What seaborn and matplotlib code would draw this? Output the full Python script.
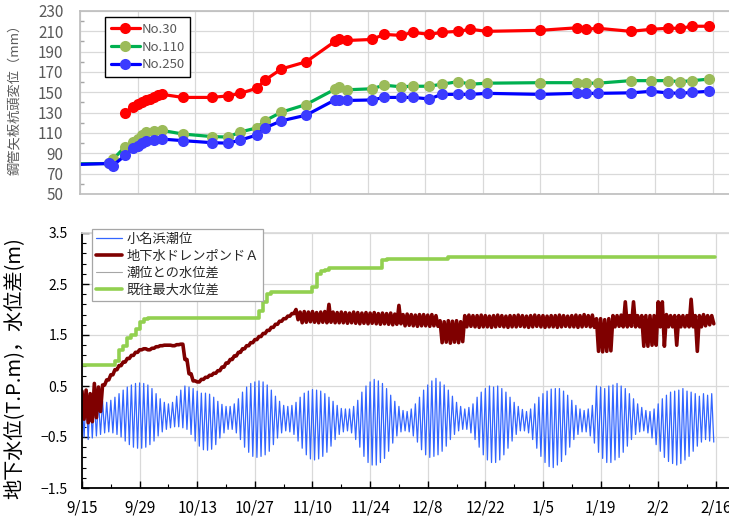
import matplotlib.pyplot as plt
import matplotlib.dates as mdates
from matplotlib.lines import Line2D
from matplotlib.ticker import MultipleLocator, FuncFormatter
import numpy as np
import pandas as pd
import seaborn as sns

start = pd.Timestamp("2019-09-15")

# --- top panel: pile head displacement (mm), survey days counted from 9/15
no30_days = [11, 13, 14, 15, 16, 17, 18, 19, 20, 25, 32, 36, 39,
             43, 45, 49, 55, 62, 63, 65, 71, 74, 78, 81, 85, 88, 92, 95, 99,
             112, 121, 123, 126, 134, 139, 143, 146, 149, 153]
no30_mm = [130, 136, 138.5, 140.5, 142, 143.5, 145, 147, 148, 145, 145, 146.5, 149,
           154, 162, 173, 180, 200, 202, 201, 202, 207, 206, 209, 207, 209, 210, 212, 210,
           211, 213.5, 212, 213, 210, 212, 213, 213, 215, 215]
pile_days = [-5, 7, 8, 11, 13, 14, 15, 16, 18, 20, 25, 32, 36, 39,
             43, 45, 49, 55, 62, 63, 65, 71, 74, 78, 81, 85, 88, 92, 95, 99,
             112, 121, 123, 126, 134, 139, 143, 146, 149, 153]
no110_mm = [79.5, 80, 84, 96.5, 101.5, 104.5, 108, 111, 112, 112.5, 109, 106.5, 106, 111,
            115, 122, 130.5, 138, 153, 155, 152.5, 153.5, 157, 155.5, 156, 156, 158, 160.5, 158, 159,
            159.5, 159.5, 159, 159, 161.5, 161.5, 161.5, 160.5, 161.5, 163]
no250_mm = [78.5, 80, 78, 88, 95, 97, 100, 102, 103, 104, 102.5, 100.5, 100, 103,
            108, 115, 122, 127.5, 142.5, 142, 142, 142.5, 145, 145, 145, 143.5, 148, 148, 148, 149,
            148, 149, 149, 149, 149.5, 151, 149.5, 149, 150, 151]

# --- bottom panel: daily high / low readings (m), day 0 = 9/15
tide_high = [0.30, 0.32, 0.28, 0.25, 0.22, 0.20, 0.18,
             0.22, 0.28, 0.35, 0.42, 0.48, 0.52, 0.55,
             0.56, 0.55, 0.52, 0.45, 0.35, 0.25, 0.18,
             0.15, 0.18, 0.30, 0.42, 0.50, 0.48, 0.45,
             0.40, 0.36, 0.36, 0.34, 0.28, 0.20, 0.14,
             0.10, 0.10, 0.15, 0.25, 0.38, 0.48, 0.55,
             0.58, 0.60, 0.58, 0.52, 0.42, 0.30, 0.20,
             0.12, 0.10, 0.12, 0.18, 0.28, 0.36, 0.40,
             0.43, 0.42, 0.40, 0.35, 0.28, 0.20, 0.12,
             0.06, 0.05, 0.05, 0.10, 0.22, 0.38, 0.50,
             0.58, 0.63, 0.60, 0.55, 0.45, 0.32, 0.20,
             0.10, 0.02, 0.00, 0.05, 0.15, 0.28, 0.42,
             0.52, 0.60, 0.65, 0.58, 0.52, 0.42, 0.30,
             0.18, 0.10, 0.05, 0.08, 0.15, 0.28, 0.38,
             0.45, 0.50, 0.48, 0.50, 0.45, 0.38, 0.28,
             0.18, 0.10, 0.04, 0.00, 0.05, 0.15, 0.28,
             0.35, 0.40, 0.44, 0.45, 0.45, 0.40, 0.32,
             0.22, 0.12, 0.05, 0.02, 0.05, 0.12, 0.50,
             0.48, 0.45, 0.50, 0.52, 0.55, 0.50, 0.45,
             0.35, 0.25, 0.15, 0.08, 0.02, 0.00, 0.05,
             0.15, 0.25, 0.32, 0.38, 0.40, 0.42, 0.45,
             0.40, 0.38, 0.35, 0.30, 0.35, 0.32, 0.35]
tide_low = [-0.50, -0.55, -0.52, -0.48, -0.45, -0.42, -0.40,
            -0.42, -0.45, -0.50, -0.58, -0.65, -0.70, -0.72,
            -0.72, -0.70, -0.65, -0.58, -0.48, -0.40, -0.35,
            -0.32, -0.30, -0.30, -0.32, -0.35, -0.45, -0.58,
            -0.68, -0.75, -0.76, -0.74, -0.65, -0.52, -0.42,
            -0.35, -0.35, -0.42, -0.55, -0.70, -0.80, -0.88,
            -0.90, -0.88, -0.85, -0.78, -0.65, -0.52, -0.42,
            -0.38, -0.40, -0.45, -0.58, -0.72, -0.85, -0.93,
            -0.95, -0.93, -0.88, -0.80, -0.68, -0.55, -0.45,
            -0.40, -0.38, -0.42, -0.55, -0.70, -0.88, -1.00,
            -1.05, -1.05, -1.00, -0.92, -0.78, -0.62, -0.48,
            -0.40, -0.38, -0.40, -0.48, -0.60, -0.75, -0.85,
            -0.90, -0.88, -0.85, -0.78, -0.68, -0.55, -0.45,
            -0.38, -0.35, -0.35, -0.42, -0.55, -0.70, -0.85,
            -0.95, -1.00, -1.00, -0.95, -0.85, -0.72, -0.58,
            -0.45, -0.38, -0.38, -0.42, -0.55, -0.72, -0.88,
            -1.00, -1.08, -1.10, -1.05, -0.98, -0.85, -0.70,
            -0.55, -0.45, -0.40, -0.40, -0.48, -0.62, -0.80,
            -0.92, -1.00, -1.00, -0.95, -0.90, -0.80, -0.68,
            -0.55, -0.45, -0.40, -0.38, -0.42, -0.52, -0.65,
            -0.78, -0.90, -0.98, -1.02, -1.05, -1.02, -0.95,
            -0.88, -0.78, -0.68, -0.60, -0.55, -0.58, -0.60]

gw_high = [0.40, 0.42, 0.35, 0.55, 0.48, 0.52, 0.62,
           0.72, 0.82, 0.90, 0.97, 1.04, 1.10, 1.16,
           1.21, 1.23, 1.21, 1.24, 1.27, 1.29, 1.30,
           1.30, 1.29, 1.31, 1.32, 1.02, 0.74, 0.60,
           0.58, 0.63, 0.67, 0.71, 0.75, 0.80, 0.87,
           0.95, 1.02, 1.09, 1.16, 1.23, 1.29, 1.35,
           1.41, 1.47, 1.53, 1.59, 1.65, 1.71, 1.77,
           1.82, 1.87, 1.92, 2.00, 1.95, 1.96, 1.95,
           1.96, 1.94, 1.95, 1.96, 2.10, 1.95, 1.94,
           1.95, 1.94, 1.93, 1.95, 1.94, 1.93, 1.94,
           1.93, 1.94, 1.92, 1.93, 1.92, 1.93, 1.91,
           2.08, 1.90, 1.91, 1.90, 1.89, 1.90, 1.90,
           1.89, 1.90, 1.88, 1.78, 1.76, 1.78, 1.77,
           1.78, 1.76, 1.88, 1.89, 1.88, 1.88, 1.89,
           1.88, 1.87, 1.88, 1.89, 1.88, 1.87, 1.88,
           1.88, 1.89, 1.88, 1.87, 1.88, 1.89, 1.88,
           1.88, 1.87, 1.88, 1.88, 1.89, 1.88, 1.87,
           1.88, 1.89, 1.88, 1.90, 1.88, 1.89, 1.82,
           1.82, 1.80, 1.82, 1.88, 1.88, 1.89, 2.15,
           1.88, 2.15, 1.88, 1.88, 1.88, 1.88, 1.88,
           2.15, 2.15, 1.90, 1.88, 1.88, 1.88, 1.88,
           1.88, 2.20, 1.88, 1.88, 1.90, 1.88, 1.88]
gw_low = [-0.15, -0.22, -0.20, -0.12, 0.00, 0.52, 0.62,
          0.72, 0.82, 0.90, 0.97, 1.04, 1.10, 1.16,
          1.21, 1.23, 1.21, 1.24, 1.27, 1.29, 1.30,
          1.30, 1.29, 1.31, 1.32, 1.02, 0.74, 0.60,
          0.58, 0.63, 0.67, 0.71, 0.75, 0.80, 0.87,
          0.95, 1.02, 1.09, 1.16, 1.23, 1.29, 1.35,
          1.41, 1.47, 1.53, 1.59, 1.65, 1.71, 1.77,
          1.82, 1.87, 1.92, 1.80, 1.74, 1.75, 1.76,
          1.75, 1.74, 1.75, 1.74, 1.75, 1.74, 1.74,
          1.74, 1.73, 1.74, 1.73, 1.72, 1.73, 1.72,
          1.73, 1.72, 1.71, 1.72, 1.71, 1.70, 1.71,
          1.72, 1.68, 1.69, 1.68, 1.67, 1.68, 1.68,
          1.67, 1.68, 1.67, 1.35, 1.36, 1.34, 1.36,
          1.35, 1.37, 1.66, 1.67, 1.66, 1.65, 1.66,
          1.66, 1.65, 1.66, 1.67, 1.66, 1.65, 1.66,
          1.66, 1.67, 1.66, 1.65, 1.66, 1.67, 1.66,
          1.65, 1.66, 1.66, 1.65, 1.66, 1.67, 1.66,
          1.66, 1.65, 1.66, 1.67, 1.66, 1.65, 1.18,
          1.17, 1.18, 1.19, 1.66, 1.67, 1.66, 1.66,
          1.67, 1.66, 1.66, 1.28, 1.28, 1.30, 1.30,
          1.66, 1.28, 1.66, 1.66, 1.30, 1.66, 1.66,
          1.66, 1.66, 1.18, 1.66, 1.68, 1.70, 1.72]

# largest recorded head difference: change points (day, m)
maxdiff_days = [0, 8, 9, 10, 11, 12, 13, 14, 15, 16, 43, 44, 45, 46,
                56, 57, 58, 59, 60, 73, 74, 89, 153.8]
maxdiff_m = [0.92, 1.00, 1.20, 1.28, 1.45, 1.50, 1.62, 1.75, 1.82, 1.84, 1.98, 2.15, 2.30, 2.35,
             2.45, 2.70, 2.75, 2.78, 2.81, 2.97, 2.99, 3.03, 3.03]

tick_labels_every = 14


def to_dates(days):
    return start + pd.to_timedelta(np.asarray(days, dtype=float), unit="D")


def hi_lo(high, low):
    # high reading at the start of each day, low reading half a day later
    n = len(high)
    t = np.empty(2 * n)
    t[0::2] = np.arange(n)
    t[1::2] = np.arange(n) + 0.5
    v = np.empty(2 * n)
    v[0::2] = high
    v[1::2] = low
    return to_dates(t), v


sns.set_theme(style="white")
plt.rcParams["font.family"] = ["Noto Sans CJK JP", "DejaVu Sans"]

fig = plt.figure(figsize=(7.29, 5.17), dpi=100)
ax_top = fig.add_axes([80 / 729, 1 - 194 / 517, 649 / 729, 183 / 517])
ax_bot = fig.add_axes([82 / 729, 1 - 488 / 517, 647 / 729, 255 / 517])

major_dates = to_dates(np.arange(0, 155, tick_labels_every))
minor_dates = to_dates(np.arange(7, 155, tick_labels_every))

# ---------------- top panel
series = [("No.30", no30_days, no30_mm, "#FF0000", "#FF0000"),
          ("No.110", pile_days, no110_mm, "#00B050", "#9BBB59"),
          ("No.250", pile_days, no250_mm, "#0000FF", "#3B3BFF")]
for label, d, v, lc, mc in series:
    sns.lineplot(x=to_dates(d), y=v, ax=ax_top, color=lc, lw=2.3, marker="o",
                 markersize=8, markerfacecolor=mc, markeredgecolor=mc, mew=0,
                 estimator=None, label=label)

ax_top.set_xlim(start, start + pd.Timedelta(days=157.9))
ax_top.set_ylim(50, 230)
ax_top.set_yticks(np.arange(50, 231, 20))
ax_top.yaxis.set_minor_locator(MultipleLocator(10))
ax_top.set_xticks(major_dates)
ax_top.tick_params(axis="x", length=0, labelbottom=False)
ax_top.tick_params(axis="y", which="both", direction="in", colors="#A6A6A6",
                   labelcolor="#595959", labelsize=11, pad=12)
ax_top.tick_params(axis="y", which="major", length=0)
ax_top.tick_params(axis="y", which="minor", length=3, left=True)
ax_top.grid(True, which="major", color="#D9D9D9", lw=0.9)
for side in ["left", "top", "bottom"]:
    ax_top.spines[side].set_color("#BFBFBF")
ax_top.spines["right"].set_visible(False)
ax_top.set_xlabel("")
ax_top.set_ylabel("")

leg = ax_top.legend(loc="upper left", bbox_to_anchor=(25 / 649, 1 - 6 / 183),
                    borderaxespad=0, frameon=True, fancybox=False, edgecolor="black",
                    framealpha=1, fontsize=9.5, handlelength=2.2, labelspacing=0.35,
                    borderpad=0.45, handletextpad=0.1)
leg.get_frame().set_linewidth(1.0)
for t in leg.get_texts():
    t.set_color("#595959")

# ---------------- bottom panel
tide_t, tide_v = hi_lo(tide_high, tide_low)
gw_t, gw_v = hi_lo(gw_high, gw_low)
sns.lineplot(x=tide_t, y=tide_v, ax=ax_bot, color="#3366FF", lw=0.9,
             estimator=None, label="小名浜潮位")
sns.lineplot(x=gw_t, y=gw_v, ax=ax_bot, color="#7F0000", lw=2.6,
             estimator=None, label="地下水ドレンポンドＡ")
sns.lineplot(x=to_dates(maxdiff_days), y=maxdiff_m, ax=ax_bot, color="#92D050", lw=2.6,
             drawstyle="steps-post", estimator=None, label="既往最大水位差")

ax_bot.set_xlim(start, start + pd.Timedelta(days=157.2))
ax_bot.set_ylim(-1.5, 3.5)
ax_bot.yaxis.set_major_locator(MultipleLocator(1, offset=0.5))
ax_bot.yaxis.set_minor_locator(MultipleLocator(0.2, offset=0.1))
ax_bot.yaxis.set_major_formatter(FuncFormatter(lambda v, p: f"{v:.1f}".replace("-", "\u2212")))
ax_bot.set_xticks(major_dates)
ax_bot.set_xticks(minor_dates, minor=True)
ax_bot.xaxis.set_major_formatter(FuncFormatter(
    lambda v, p: f"{mdates.num2date(v).month}/{mdates.num2date(v).day}"))
ax_bot.tick_params(axis="both", which="both", direction="in", color="black",
                   left=True, bottom=True)
ax_bot.tick_params(axis="both", which="major", length=5, width=1)
ax_bot.tick_params(axis="both", which="minor", length=3, width=0.8)
ax_bot.tick_params(axis="y", labelsize=10, pad=10, labelcolor="black")
ax_bot.tick_params(axis="x", labelsize=11, pad=8, labelcolor="black")
ax_bot.grid(True, which="major", color="#D9D9D9", lw=0.9)
ax_bot.spines["left"].set_color("black")
ax_bot.spines["bottom"].set_color("black")
ax_bot.spines["left"].set_linewidth(1.3)
ax_bot.spines["bottom"].set_linewidth(1.3)
ax_bot.spines["top"].set_color("#D9D9D9")
ax_bot.spines["right"].set_visible(False)
ax_bot.set_xlabel("")
ax_bot.set_ylabel("")

handles, labels = ax_bot.get_legend_handles_labels()
handles.insert(2, Line2D([], [], color="#A6A6A6", lw=0.8))
labels.insert(2, "潮位との水位差")
leg2 = ax_bot.legend(handles, labels, loc="upper left", bbox_to_anchor=(10 / 647, 1 + 4 / 255),
                     borderaxespad=0, frameon=True, fancybox=False, edgecolor="#A6A6A6",
                     framealpha=1, fontsize=9.5, handlelength=2.0, labelspacing=0.3,
                     borderpad=0.3, handletextpad=0.3)
leg2.get_frame().set_linewidth(0.9)
for t in leg2.get_texts():
    t.set_color("#262626")

fig.text(15 / 729, 1 - 96 / 517, "鋼管矢板杭頭変位（mm）", rotation=90, ha="center", va="center",
         fontsize=9.5, color="#595959")
fig.text(14 / 729, 1 - 368 / 517, "地下水位(T.P.m)，水位差(m)", rotation=90, ha="center", va="center",
         fontsize=14.5, color="black")

fig.savefig("out.png", dpi=100)
